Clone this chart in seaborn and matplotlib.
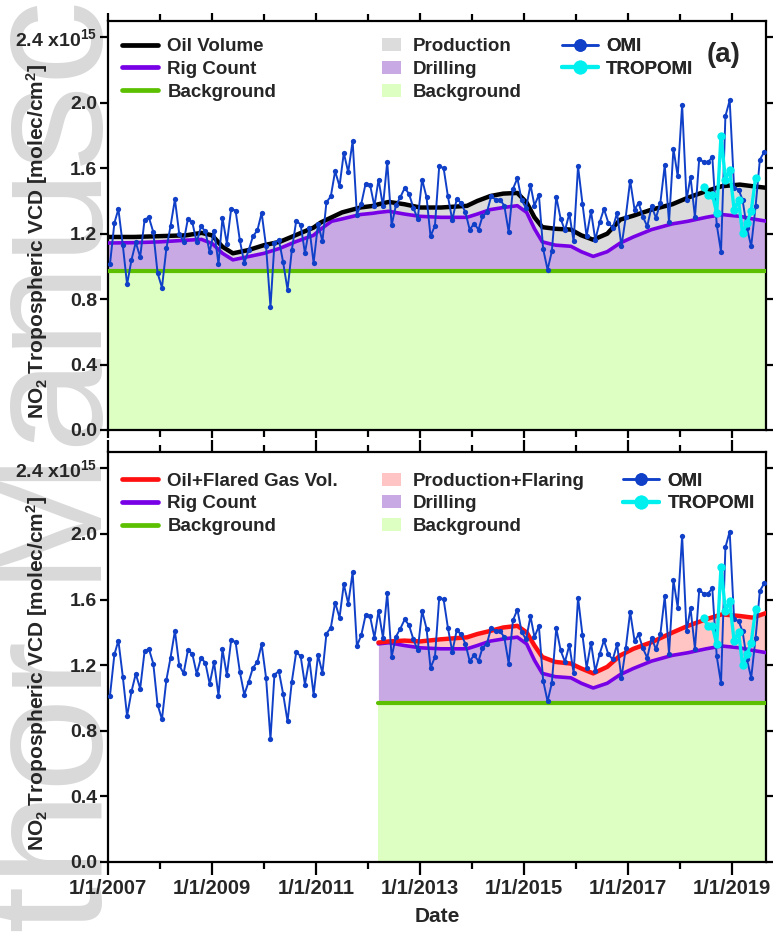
import numpy as np
import pandas as pd
import matplotlib
matplotlib.use("Agg")
import matplotlib.pyplot as plt
import seaborn as sns
from matplotlib.lines import Line2D
from matplotlib.patches import Patch

# ---------------- data ----------------
omi_values = [
    1.015, 1.266, 1.35, 1.13, 0.89, 1.04, 1.147, 1.057, 1.286, 1.30, 1.21, 0.96,
    0.87, 1.11, 1.245, 1.41, 1.20, 1.15, 1.29, 1.27, 1.147, 1.245, 1.214, 1.086,
    1.218, 1.015, 1.296, 1.139, 1.353, 1.341, 1.159, 1.021, 1.10, 1.184, 1.22, 1.327,
    1.123, 0.75, 1.143, 1.163, 1.025, 0.857, 1.10, 1.28, 1.255, 1.082, 1.235, 1.021,
    1.261, 1.153, 1.392, 1.429, 1.582, 1.49, 1.694, 1.576, 1.766, 1.317, 1.384, 1.505,
    1.50, 1.368, 1.531, 1.368, 1.639, 1.251, 1.374, 1.423, 1.48, 1.443, 1.357, 1.29,
    1.531, 1.423, 1.184, 1.249, 1.612, 1.601, 1.429, 1.282, 1.413, 1.388, 1.331, 1.225,
    1.261, 1.225, 1.306, 1.331, 1.429, 1.408, 1.408, 1.372, 1.21, 1.474, 1.539, 1.404,
    1.357, 1.498, 1.372, 1.439, 1.106, 0.98, 1.092, 1.425, 1.29, 1.22, 1.323, 1.153,
    1.612, 1.384, 1.184, 1.337, 1.163, 1.27, 1.351, 1.266, 1.235, 1.327, 1.123, 1.302,
    1.525, 1.347, 1.388, 1.302, 1.245, 1.368, 1.296, 1.388, 1.619, 1.27, 1.719, 1.551,
    1.988, 1.408, 1.547, 1.30, 1.658, 1.637, 1.637, 1.668, 1.255, 1.09, 1.919, 2.015,
    1.48, 1.47, 1.408, 1.235, 1.123, 1.368, 1.653, 1.70,
]
omi_start = "2007-01-01"

tropomi_values = [1.486, 1.439, 1.439, 1.327, 1.80, 1.531, 1.592, 1.347, 1.404,
                  1.204, 1.266, 1.337, 1.541]
tropomi_start = "2018-06-01"

model_years = [2007.0, 2007.5, 2008.0, 2008.5, 2008.8, 2009.0, 2009.2, 2009.4, 2009.7,
               2010.0, 2010.3, 2010.6, 2010.95, 2011.1, 2011.3, 2011.5, 2011.85, 2012.1,
               2012.2, 2012.4, 2012.7, 2013.0, 2013.4, 2013.9, 2014.1, 2014.35, 2014.6,
               2014.87, 2015.05, 2015.2, 2015.35, 2015.6, 2015.9, 2016.1, 2016.33, 2016.6,
               2016.85, 2017.1, 2017.45, 2017.85, 2018.15, 2018.5, 2018.8, 2019.15, 2019.4,
               2019.67]
oil_volume = [1.18, 1.18, 1.185, 1.19, 1.205, 1.19, 1.12, 1.08, 1.10,
              1.13, 1.15, 1.19, 1.237, 1.27, 1.30, 1.33, 1.36, 1.37,
              1.38, 1.394, 1.38, 1.36, 1.36, 1.37, 1.40, 1.43, 1.445,
              1.449, 1.39, 1.30, 1.24, 1.23, 1.225, 1.19, 1.163, 1.20,
              1.286, 1.31, 1.347, 1.38, 1.42, 1.46, 1.49, 1.50, 1.49,
              1.48]
rig_count = [1.143, 1.145, 1.15, 1.16, 1.165, 1.14, 1.08, 1.04, 1.06,
             1.08, 1.11, 1.15, 1.19, 1.23, 1.276, 1.29, 1.317, 1.325,
             1.33, 1.337, 1.32, 1.306, 1.30, 1.30, 1.32, 1.347, 1.36,
             1.371, 1.33, 1.23, 1.15, 1.13, 1.123, 1.09, 1.061, 1.09,
             1.143, 1.18, 1.225, 1.26, 1.276, 1.30, 1.317, 1.306, 1.29,
             1.276]
flare_start_index = 18  # model years from 2012.2 onward (panel b)
oil_flared_gas = [1.338, 1.345, 1.35, 1.345, 1.358, 1.37, 1.39, 1.409, 1.43,
                  1.44, 1.40, 1.32, 1.25, 1.22, 1.21, 1.18, 1.15, 1.19,
                  1.26, 1.30, 1.34, 1.399, 1.44, 1.48, 1.51, 1.50, 1.49,
                  1.52]
background_level = 0.97

y_ticks = [0.0, 0.4, 0.8, 1.2, 1.6, 2.0, 2.4]
y_tick_labels = ["0.0", "0.4", "0.8", "1.2", "1.6", "2.0", r"2.4 x10$^{\mathbf{15}}$"]
x_label_years = [2007, 2009, 2011, 2013, 2015, 2017, 2019]
x_minor_years = [2008, 2010, 2012, 2014, 2016, 2018]

# ---------------- styling ----------------
C_BLACK = "#000000"
C_PURPLE = "#7800E6"
C_GREEN = "#5CC000"
C_RED = "#FF1010"
F_GRAY = "#DCDCDC"
F_PURPLE = "#C9A9E3"
F_GREEN = "#DDFFC2"
F_PINK = "#FFC4C4"
C_OMI = "#1040C8"
C_TROPOMI = "#00F0F0"

sns.set_theme(style="ticks")
plt.rcParams["font.family"] = ["Liberation Sans", "DejaVu Sans"]
plt.rcParams["font.weight"] = "bold"
plt.rcParams["mathtext.fontset"] = "custom"
plt.rcParams["mathtext.rm"] = "Liberation Sans:bold"
plt.rcParams["mathtext.bf"] = "Liberation Sans:bold"
plt.rcParams["mathtext.it"] = "Liberation Sans:bold"


def dec_to_date(y):
    yr = int(np.floor(y))
    return pd.Timestamp(year=yr, month=1, day=1) + pd.Timedelta(days=(y - yr) * 365.25)


omi_dates = pd.date_range(omi_start, periods=len(omi_values), freq="MS") + pd.Timedelta(days=14)
tropomi_dates = pd.date_range(tropomi_start, periods=len(tropomi_values), freq="MS") + pd.Timedelta(days=14)
model_dates = pd.DatetimeIndex([dec_to_date(y) for y in model_years])
flare_dates = model_dates[flare_start_index:]
rig_count_b = rig_count[flare_start_index:]

W, H = 773, 933
fig = plt.figure(figsize=(W / 100, H / 100), dpi=100)
fig.patch.set_facecolor("white")

# watermark
fig.text(102 / W, 1 - 1140 / H, "Author Manuscript", rotation=90, rotation_mode="anchor",
         ha="left", va="baseline", fontsize=122, color="#D9D9D9", fontweight="normal",
         zorder=-10)

ax1 = fig.add_axes([108 / W, 1 - 430 / H, 658 / W, 409 / H])
ax2 = fig.add_axes([108 / W, 1 - 862 / H, 658 / W, 410 / H])

xmin = pd.Timestamp("2007-01-01")
xmax = pd.Timestamp("2019-08-27")

fs_tick = 14
fs_leg = 13.5
fs_lab = 15


def plot_obs(ax):
    sns.lineplot(x=omi_dates, y=omi_values, ax=ax, color=C_OMI, lw=1.4, marker="o",
                 markersize=3.8, markeredgewidth=0, zorder=5)
    sns.lineplot(x=tropomi_dates, y=tropomi_values, ax=ax, color=C_TROPOMI, lw=2.4,
                 marker="o", markersize=6, markeredgewidth=0, zorder=6)


# ---- panel a ----
ax1.fill_between(model_dates, 0, background_level, color=F_GREEN, lw=0, zorder=1)
ax1.fill_between(model_dates, background_level, rig_count, color=F_PURPLE, lw=0, zorder=1)
ax1.fill_between(model_dates, rig_count, oil_volume, color=F_GRAY, lw=0, zorder=1)
sns.lineplot(x=model_dates, y=[background_level] * len(model_dates), ax=ax1, color=C_GREEN,
             lw=3.0, zorder=3)
sns.lineplot(x=model_dates, y=rig_count, ax=ax1, color=C_PURPLE, lw=2.6, zorder=3)
sns.lineplot(x=model_dates, y=oil_volume, ax=ax1, color=C_BLACK, lw=3.2, zorder=3)
plot_obs(ax1)

# ---- panel b ----
ax2.fill_between(flare_dates, 0, background_level, color=F_GREEN, lw=0, zorder=1)
ax2.fill_between(flare_dates, background_level, rig_count_b, color=F_PURPLE, lw=0, zorder=1)
ax2.fill_between(flare_dates, rig_count_b, oil_flared_gas, color=F_PINK, lw=0, zorder=1)
sns.lineplot(x=flare_dates, y=[background_level] * len(flare_dates), ax=ax2, color=C_GREEN,
             lw=3.0, zorder=3)
sns.lineplot(x=flare_dates, y=rig_count_b, ax=ax2, color=C_PURPLE, lw=2.6, zorder=3)
sns.lineplot(x=flare_dates, y=oil_flared_gas, ax=ax2, color=C_RED, lw=3.2, zorder=3)
plot_obs(ax2)

major_dates = [pd.Timestamp(year=y, month=1, day=1) for y in x_label_years]
minor_dates = [pd.Timestamp(year=y, month=1, day=1) for y in x_minor_years]

for ax in (ax1, ax2):
    ax.set_xlim(xmin, xmax)
    ax.set_ylim(0, 2.5)
    ax.set_yticks(y_ticks)
    ax.set_yticklabels(y_tick_labels, fontsize=fs_tick, fontweight="bold")
    ax.set_xticks(major_dates)
    ax.set_xticks(minor_dates, minor=True)
    for s in ax.spines.values():
        s.set_linewidth(1.6)
        s.set_color("black")
        s.set_visible(True)
    ax.tick_params(axis="both", which="major", direction="out", length=6, width=1.6,
                   top=True, right=True, labelright=False, labeltop=False, color="black",
                   pad=2)
    ax.tick_params(axis="x", which="minor", direction="out", length=5, width=1.6,
                   top=True, color="black")
    ax.set_ylabel(r"NO$_\mathbf{2}$ Tropospheric VCD [molec/cm$^\mathbf{2}$]",
                  fontsize=fs_lab, fontweight="bold")
    ax.yaxis.set_label_coords(-0.088, 0.46)
    ax.set_facecolor("white")
    ax.grid(False)
    ax.set_zorder(1)

ax1.set_xticklabels([])
ax1.set_xlabel("")
ax2.set_xticklabels([f"1/1/{y}" for y in x_label_years], fontsize=14.5, fontweight="bold")
ax2.tick_params(axis="x", which="major", length=9, pad=3)
ax2.set_xlabel("Date", fontsize=fs_lab, fontweight="bold", labelpad=7)

ax1.text(0.935, 0.917, "(a)", transform=ax1.transAxes, fontsize=20, fontweight="bold",
         ha="center", va="center")


def add_legends(ax, top_label, top_color, fill_label, fill_color, col3_x, row_top):
    lkw = dict(frameon=False, loc="upper left", borderaxespad=0, borderpad=0,
               prop={"size": fs_leg, "weight": "bold"}, labelspacing=0.3)
    h1 = [Line2D([], [], color=top_color, lw=3.4), Line2D([], [], color=C_PURPLE, lw=3.4),
          Line2D([], [], color=C_GREEN, lw=3.4)]
    l1 = ax.legend(h1, [top_label, "Rig Count", "Background"], bbox_to_anchor=(0.022, row_top),
                   handlelength=1.9, handletextpad=0.5, **lkw)
    ax.add_artist(l1)
    h2 = [Patch(color=fill_color, lw=0), Patch(color=F_PURPLE, lw=0), Patch(color=F_GREEN, lw=0)]
    l2 = ax.legend(h2, [fill_label, "Drilling", "Background"], bbox_to_anchor=(0.417, row_top),
                   handlelength=1.0, handletextpad=0.6, **lkw)
    ax.add_artist(l2)
    h3 = [Line2D([], [], color=C_OMI, lw=1.8, marker="o", markersize=8),
          Line2D([], [], color=C_TROPOMI, lw=3.0, marker="o", markersize=9)]
    l3 = ax.legend(h3, ["OMI", "TROPOMI"], bbox_to_anchor=(col3_x, row_top),
                   handlelength=1.9, handletextpad=0.45, **lkw)
    ax.add_artist(l3)


add_legends(ax1, "Oil Volume", C_BLACK, "Production", F_GRAY, 0.690, 0.958)
add_legends(ax2, "Oil+Flared Gas Vol.", C_RED, "Production+Flaring", F_PINK, 0.783, 0.950)

fig.savefig("out.png", dpi=100, facecolor="white")
